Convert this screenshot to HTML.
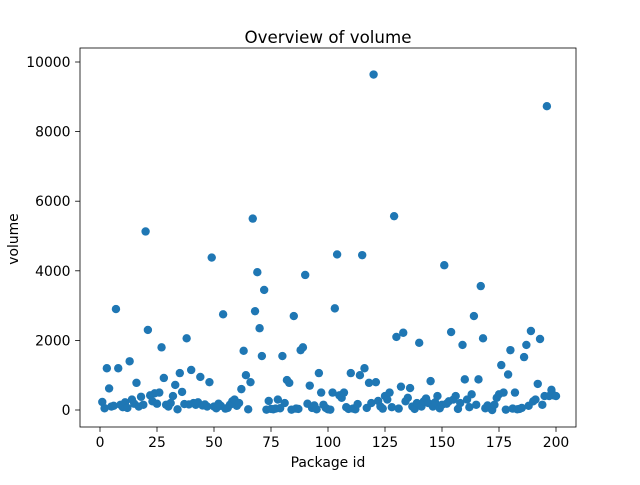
<!DOCTYPE html>
<html><head><meta charset="utf-8"><style>
body{margin:0;background:#fff;font-family:"Liberation Sans","DejaVu Sans",sans-serif;}
</style></head><body>
<svg id="chart" width="640" height="480" viewBox="0 0 640 480" xmlns="http://www.w3.org/2000/svg">
<rect width="640" height="480" fill="#fff"/>
<text x="328" y="49" text-anchor="middle" font-size="16.7" fill="#000" font-family="DejaVu Sans, sans-serif" dy="-6">Overview of volume</text>
<g id="marks"></g>
<g id="axes"></g>
<rect x="80" y="48" width="496" height="379" fill="none" stroke="#000" stroke-width="0.8"/>
<text x="328" y="467" text-anchor="middle" font-size="13.9" font-family="DejaVu Sans, sans-serif">Package id</text>
<text x="0" y="0" transform="translate(18,239) rotate(-90)" text-anchor="middle" font-size="13.9" font-family="DejaVu Sans, sans-serif">volume</text>
</svg>
<script>
const volumes = [230,50,1200,620,100,120,2900,1200,150,80,220,60,1400,300,180,780,100,380,150,5130,
2300,420,250,480,180,500,1800,920,150,100,200,400,720,20,1060,520,170,2060,160,1150,
200,150,220,950,130,160,100,800,4380,100,50,180,120,2750,40,60,150,250,300,120,
200,600,1700,1000,20,800,5500,2840,3960,2350,1550,3450,10,260,30,20,40,300,50,1550,
200,860,780,10,2700,40,30,1720,1800,3880,180,700,60,130,20,1060,500,150,60,20,
10,500,2920,4470,420,350,500,80,30,1060,40,20,170,1000,4450,1200,60,780,200,9640,
800,260,100,40,400,300,500,80,5570,2100,40,670,2220,250,350,630,100,30,200,1930,
100,250,330,200,830,100,220,400,50,150,4160,180,250,2240,300,400,30,200,1870,880,
300,80,450,2700,150,880,3560,2060,50,130,60,0,150,350,450,1290,500,10,1020,1720,
40,500,20,30,60,1520,1870,120,2270,250,300,750,2040,150,400,8730,400,580,420,400];
const xTicks = [0,25,50,75,100,125,150,175,200];
const yTicks = [0,2000,4000,6000,8000,10000];
const NS="http://www.w3.org/2000/svg";
function sx(v){return 100 + v*(456/200);}
function sy(v){return 410 - v*0.0348;}
const marks=document.getElementById('marks');
volumes.forEach((v,i)=>{
  const c=document.createElementNS(NS,'circle');
  c.setAttribute('cx',sx(i+1));c.setAttribute('cy',sy(v));c.setAttribute('r',4.2);
  c.setAttribute('fill','#1f77b4');
  
  
  marks.appendChild(c);
});
const axes=document.getElementById('axes');
xTicks.forEach(t=>{
  const x=sx(t);
  const l=document.createElementNS(NS,'line');
  l.setAttribute('x1',x);l.setAttribute('x2',x);l.setAttribute('y1',427);l.setAttribute('y2',431.9);
  l.setAttribute('stroke','#000');l.setAttribute('stroke-width','0.8');
  
  
  axes.appendChild(l);
  const tx=document.createElementNS(NS,'text');
  tx.setAttribute('x',x);tx.setAttribute('y',447);tx.setAttribute('text-anchor','middle');
  tx.setAttribute('font-size','13.9');tx.setAttribute('font-family','DejaVu Sans, sans-serif');
  tx.textContent=t;
  
  
  axes.appendChild(tx);
});
yTicks.forEach(t=>{
  const y=sy(t);
  const l=document.createElementNS(NS,'line');
  l.setAttribute('x1',75.1);l.setAttribute('x2',80);l.setAttribute('y1',y);l.setAttribute('y2',y);
  l.setAttribute('stroke','#000');l.setAttribute('stroke-width','0.8');
  
  
  axes.appendChild(l);
  const tx=document.createElementNS(NS,'text');
  tx.setAttribute('x',70.5);tx.setAttribute('y',y+5);tx.setAttribute('text-anchor','end');
  tx.setAttribute('font-size','13.9');tx.setAttribute('font-family','DejaVu Sans, sans-serif');
  tx.textContent=t;
  
  
  axes.appendChild(tx);
});
</script>
</body></html>
